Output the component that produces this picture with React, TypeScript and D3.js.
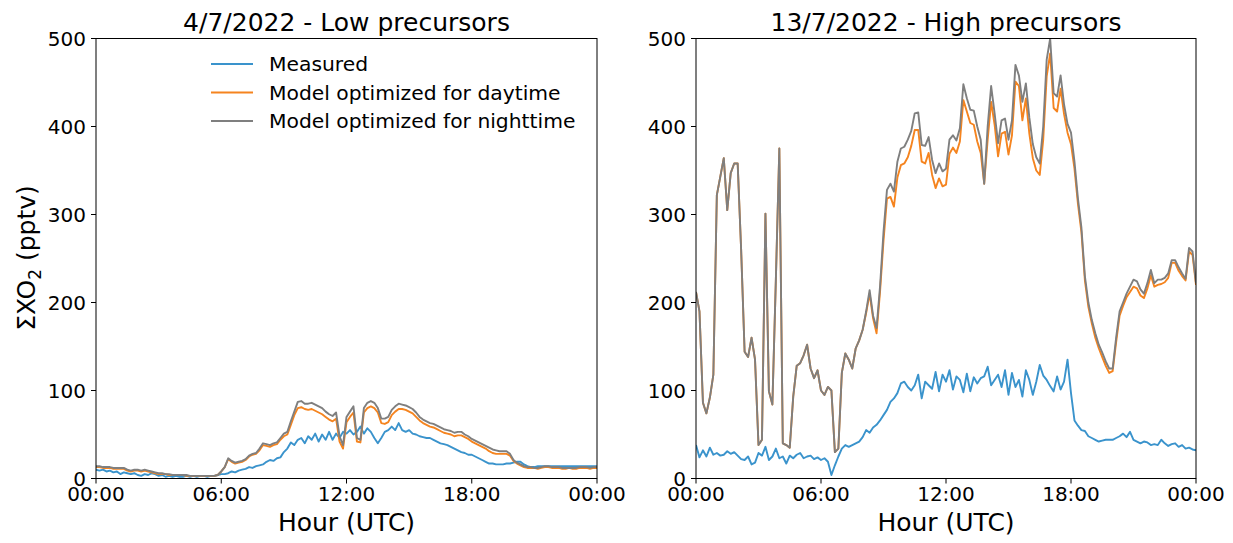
import React from 'react';
import * as d3 from 'd3';

// Time axis: values are sampled every 10 minutes from 00:00 to 24:00 (145 samples)
const STEP_HOURS = 1 / 6;
const X_TICKS = [0, 6, 12, 18, 24];
const X_TICK_LABELS = ['00:00', '06:00', '12:00', '18:00', '00:00'];
const Y_TICKS = [0, 100, 200, 300, 400, 500];

const SERIES_NAMES = ['Measured', 'Model optimized for daytime', 'Model optimized for nighttime'];
const SERIES_COLORS = ['#3a93cc', '#f5841f', '#7f7f7f'];

// 4/7/2022 — low precursors
const lowMeasured = [
  10, 9, 10, 8, 9, 7,
  8, 5, 7, 6, 5, 6,
  4, 3, 5, 4, 6, 5,
  3, 4, 2, 3, 2, 3,
  2, 2, 3, 2, 3, 2,
  3, 3, 2, 3, 3, 4,
  5, 5, 6, 8, 7, 9,
  10, 11, 13, 12, 14, 15,
  16, 19, 21, 20, 23, 24,
  30, 34, 41, 38, 44, 46,
  40, 48, 44, 51, 42, 50,
  44, 53, 44, 51, 46, 53,
  51, 55, 50, 53, 59, 51,
  57, 53, 46, 40, 46, 53,
  55, 59, 55, 63, 55, 53,
  55, 51, 50, 48, 47, 46,
  46, 44, 42, 40, 39, 38,
  36, 34, 32, 30, 29, 27,
  27, 25, 23, 21, 19, 17,
  17, 16, 16, 16, 17, 17,
  18, 19, 19, 16, 14, 13,
  13, 14, 14, 14, 14, 14,
  14, 14, 14, 14, 14, 14,
  14, 14, 14, 14, 14, 14,
  14,
];

const lowDaytime = [
  13, 13, 12, 12, 12, 11,
  11, 11, 11, 9, 8, 9,
  9, 8, 9, 8, 7, 6,
  5, 5, 5, 4, 4, 4,
  4, 4, 3, 3, 3, 3,
  3, 3, 3, 3, 3, 4,
  8, 13, 22, 19, 17, 18,
  19, 21, 25, 27, 28, 32,
  38, 37, 36, 38, 39, 44,
  48, 50, 61, 72, 80, 81,
  79, 78, 79, 77, 75, 73,
  70, 67, 65, 68, 42, 34,
  64, 70, 75, 42, 41, 75,
  80, 82, 80, 75, 63, 62,
  64, 72, 76, 79, 79, 78,
  76, 74, 70, 66, 63, 61,
  59, 58, 56, 54, 52, 51,
  50, 48, 49, 49, 47, 45,
  42, 40, 38, 36, 34, 31,
  29, 28, 28, 28, 28, 26,
  20, 17, 15, 13, 12, 12,
  12, 11, 12, 13, 13, 12,
  12, 12, 11, 11, 12, 11,
  11, 12, 12, 12, 11, 12,
  12,
];

const lowNighttime = [
  14, 14, 13, 13, 13, 12,
  12, 12, 12, 10, 9, 10,
  10, 9, 10, 9, 8, 7,
  6, 6, 5, 5, 4, 4,
  4, 4, 4, 3, 3, 3,
  3, 3, 3, 3, 3, 4,
  8, 13, 23, 20, 18, 19,
  20, 22, 26, 28, 29, 34,
  40, 39, 38, 40, 41, 46,
  51, 53, 65, 76, 87, 88,
  85, 85, 86, 84, 82, 80,
  76, 73, 71, 75, 48, 38,
  70, 76, 82, 46, 44, 80,
  86, 88, 86, 80, 68, 68,
  70, 78, 82, 85, 84, 83,
  81, 79, 75, 70, 67, 65,
  63, 62, 60, 58, 56, 55,
  54, 52, 53, 53, 50, 48,
  45, 43, 41, 39, 37, 35,
  33, 32, 31, 31, 31, 28,
  21, 18, 16, 14, 13, 13,
  12, 12, 13, 14, 14, 13,
  13, 13, 12, 12, 12, 12,
  12, 13, 13, 13, 12, 13,
  13,
];

// 13/7/2022 — high precursors
const highMeasured = [
  38, 24, 32, 25, 35, 27,
  29, 26, 27, 31, 28, 30,
  26, 22, 21, 25, 16, 18,
  29, 26, 36, 21, 25, 34,
  23, 25, 17, 26, 23, 27,
  29, 23, 25, 26, 22, 24,
  21, 23, 19, 4, 15, 25,
  34, 38, 36, 38, 40, 42,
  47, 55, 52, 58, 61, 66,
  72, 78, 87, 91, 97, 108,
  110, 104, 100, 106, 118, 91,
  110, 106, 102, 121, 99, 118,
  110, 123, 101, 116, 112, 98,
  119, 99, 115, 108, 114, 116,
  127, 106, 112, 118, 104, 123,
  95, 120, 104, 112, 93, 123,
  112, 95, 110, 129, 117, 112,
  105, 99, 116, 101, 110, 135,
  97, 66, 60, 55, 54, 48,
  46, 44, 42, 43, 44, 44,
  44, 46, 48, 51, 47, 53,
  44, 42, 40, 42, 41, 38,
  39, 38, 44, 40, 37, 39,
  40, 36, 38, 34, 35, 33,
  32,
];

const highDaytime = [
  212, 190, 86, 74, 92, 118,
  322, 343, 364, 305, 347, 358,
  358, 260, 144, 138, 160, 135,
  38, 44, 301, 99, 84, 226,
  375, 40, 38, 35, 93, 128,
  131, 140, 152, 125, 114, 123,
  100, 95, 104, 100, 30, 34,
  120, 142, 135, 125, 148, 157,
  169, 188, 210, 182, 165, 212,
  270, 318, 320, 309, 342, 356,
  358, 365, 378, 396, 396, 360,
  358, 370, 345, 330, 341, 332,
  334, 369, 376, 370, 383, 430,
  417, 404, 402, 383, 370, 335,
  385, 428, 402, 366, 392, 394,
  368, 390, 451, 446, 407, 432,
  392, 364, 350, 345, 385, 457,
  483, 421, 417, 443, 414, 393,
  380, 352, 312, 280, 225, 195,
  176, 160, 148, 138, 128, 120,
  122, 155, 185, 196, 206, 212,
  218, 216, 208, 205, 216, 231,
  218, 220, 221, 223, 228, 245,
  245, 236, 230, 225, 258, 254,
  220,
];

const highNighttime = [
  212, 190, 86, 74, 92, 118,
  322, 343, 364, 305, 347, 358,
  358, 260, 144, 138, 160, 135,
  38, 44, 301, 99, 84, 226,
  375, 40, 38, 35, 93, 128,
  131, 140, 152, 125, 114, 123,
  100, 95, 104, 100, 30, 34,
  120, 142, 135, 125, 148, 157,
  169, 190, 214, 185, 171, 218,
  280, 328, 335, 326, 360, 375,
  377, 385, 395, 415, 416, 379,
  378, 388, 362, 347, 358, 349,
  352, 385, 390, 384, 398, 448,
  432, 419, 418, 400, 385, 335,
  400, 446, 415, 381, 407, 409,
  385, 407, 470, 458, 428, 449,
  410, 380, 365, 358, 400, 476,
  500, 438, 434, 458, 425, 403,
  393, 360, 318, 285, 230, 200,
  180, 165, 152, 143, 133, 125,
  125, 160, 190, 200, 210, 218,
  226, 224, 215, 210, 222, 237,
  222, 226, 226, 228, 233, 248,
  248, 240, 233, 227, 262, 258,
  222,
];

const FONT = '"DejaVu Sans", Verdana, sans-serif';
const TOP = 38.5;
const BOTTOM = 478.5;
const TICK_FONT = 20;
const LABEL_FONT = 25;

type PanelProps = {
  id: string;
  left: number;
  right: number;
  title: string;
  series: number[][];
  showLegend?: boolean;
};

function Panel({ id, left, right, title, series, showLegend }: PanelProps) {
  const x = d3.scaleLinear().domain([0, 24]).range([left, right]);
  const y = d3.scaleLinear().domain([0, 500]).range([BOTTOM, TOP]);
  const line = d3
    .line<number>()
    .x((_, i) => x(i * STEP_HOURS))
    .y((v) => y(v));

  return (
    <g>
      <defs>
        <clipPath id={`clip-${id}`}>
          <rect x={left} y={TOP} width={right - left} height={BOTTOM - TOP} />
        </clipPath>
      </defs>
      <g clipPath={`url(#clip-${id})`}>
        {series.map((s, k) => (
          <path
            key={k}
            d={line(s) || ''}
            fill="none"
            stroke={SERIES_COLORS[k]}
            strokeWidth={1.9}
            strokeLinejoin="round"
          />
        ))}
      </g>
      <rect
        x={left}
        y={TOP}
        width={right - left}
        height={BOTTOM - TOP}
        fill="none"
        stroke="#000"
        strokeWidth={1}
      />
      {Y_TICKS.map((t) => (
        <g key={`y${t}`}>
          <line x1={left - 5} x2={left} y1={y(t)} y2={y(t)} stroke="#000" strokeWidth={1} />
          <text
            x={left - 10}
            y={y(t)}
            dy="0.36em"
            textAnchor="end"
            fontSize={TICK_FONT}
            fontFamily={FONT}
            fill="#000"
          >
            {t}
          </text>
        </g>
      ))}
      {X_TICKS.map((t, i) => (
        <g key={`x${i}`}>
          <line x1={x(t)} x2={x(t)} y1={BOTTOM} y2={BOTTOM + 5} stroke="#000" strokeWidth={1} />
          <text
            x={x(t)}
            y={BOTTOM + 22}
            textAnchor="middle"
            fontSize={TICK_FONT}
            fontFamily={FONT}
            fill="#000"
          >
            {X_TICK_LABELS[i]}
          </text>
        </g>
      ))}
      <text
        x={(left + right) / 2}
        y={31}
        textAnchor="middle"
        fontSize={LABEL_FONT}
        fontFamily={FONT}
        fill="#000"
      >
        {title}
      </text>
      <text
        x={(left + right) / 2}
        y={531}
        textAnchor="middle"
        fontSize={LABEL_FONT}
        fontFamily={FONT}
        fill="#000"
      >
        Hour (UTC)
      </text>
      {showLegend &&
        SERIES_NAMES.map((name, k) => {
          const ly = 64 + k * 28.5;
          return (
            <g key={name}>
              <line x1={211} x2={253} y1={ly} y2={ly} stroke={SERIES_COLORS[k]} strokeWidth={1.9} />
              <text x={269} y={ly} dy="0.36em" fontSize={20.3} fontFamily={FONT} fill="#000">
                {name}
              </text>
            </g>
          );
        })}
    </g>
  );
}

export default function App() {
  return (
    <svg
      width={1233}
      height={543}
      style={{ position: 'absolute', left: 0, top: 0, background: '#fff' }}
    >
      <rect x={0} y={0} width={1233} height={543} fill="#fff" />
      <Panel
        id="low"
        left={96}
        right={597}
        title="4/7/2022 - Low precursors"
        series={[lowMeasured, lowDaytime, lowNighttime]}
        showLegend
      />
      <Panel
        id="high"
        left={696}
        right={1196}
        title="13/7/2022 - High precursors"
        series={[highMeasured, highDaytime, highNighttime]}
      />
      <text
        transform="translate(35,258) rotate(-90)"
        textAnchor="middle"
        fontSize={LABEL_FONT}
        fontFamily={FONT}
        fill="#000"
      >
        ΣXO
        <tspan fontSize={17} dy={6}>2</tspan>
        <tspan dy={-6}> (pptv)</tspan>
      </text>
    </svg>
  );
}
